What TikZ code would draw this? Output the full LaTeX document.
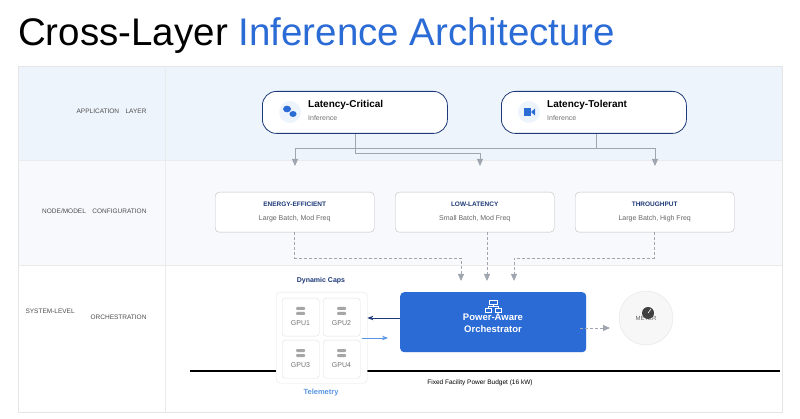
\documentclass[tikz,border=0pt]{standalone}
\usepackage{fontspec}
\setmainfont{Liberation Sans}
\usetikzlibrary{positioning, arrows.meta, shadows}
\definecolor{my_blue}{RGB}{42, 107, 214}
\definecolor{my_navy}{RGB}{30, 58, 120}
\definecolor{my_band1}{RGB}{238, 244, 252}
\definecolor{my_band2}{RGB}{247, 249, 252}
\definecolor{my_gray}{RGB}{160, 166, 176}
\definecolor{my_light}{RGB}{90, 150, 230}
\tikzset {
  layer/.style = {font=\fontsize{6.5}{7}\selectfont, text=black!70, anchor=east},
  app/.style = {draw=my_navy, thick, fill=white, rounded corners=14pt, rectangle, minimum width=185pt, minimum height=42pt},
  config/.style = {draw=black!25, fill=white, rounded corners=4pt, rectangle, minimum width=159pt, minimum height=40pt},
  gpu/.style = {draw=black!12, fill=white, rounded corners=3pt, rectangle, minimum width=37pt, minimum height=38pt, font=\fontsize{7}{8}\selectfont, text=black!60},
  line/.style = {-{Triangle[width=6pt,length=7pt]}, thick, color=my_gray},
  dashline/.style = {-{Triangle[width=6pt,length=7pt]}, thick, color=my_gray, dash pattern=on 3pt off 2pt},
}
\begin{document}
\begin{tikzpicture}[x=1pt, y=-1pt]
    \useasboundingbox (0,0) rectangle (800,419);
    \fill[white] (0,0) rectangle (800,419);

    % title
    \node[anchor=base west, inner sep=0, font=\fontsize{38.5}{40}\selectfont] (title) at (18,46) {Cross-Layer \textcolor{my_blue}{Inference Architecture}};

    % bands
    \fill[my_band1] (18,66) rectangle (782,160);
    \fill[my_band2] (18,160) rectangle (782,265);
    \draw[black!10] (18,66) rectangle (782,412);
    \draw[black!8] (165,66) -- (165,412);
    \draw[black!8] (18,160) -- (782,160);
    \draw[black!8] (18,265) -- (782,265);

    \node[layer] (lapp) at (150,111) {APPLICATION\quad LAYER};
    \node[layer] (lnode) at (150,211) {NODE/MODEL\quad CONFIGURATION};
    \node[layer, anchor=west] (lsys) at (22,311) {SYSTEM-LEVEL};
    \node[layer] (lorch) at (150,317) {ORCHESTRATION};

    % application layer
    \node[app, anchor=north west] (crit) at (262,91) {};
    \fill[my_band1] (290,112) circle (11pt);
    \fill[my_blue] (287,109) ellipse (4pt and 3.3pt) (293,114) ellipse (3.6pt and 3pt);
    \node[anchor=west, inner sep=0, font=\fontsize{10}{12}\selectfont\bfseries] (crittxt) at (308,105) {Latency-Critical};
    \node[anchor=west, inner sep=0, font=\fontsize{7}{8}\selectfont, text=black!55] (critsub) at (308,118) {Inference};

    \node[app, anchor=north west] (tol) at (501,91) {};
    \fill[my_band1] (529,112) circle (11pt);
    \fill[my_blue] (524,108) rectangle (531,116);
    \fill[my_blue] (531,112) -- (535,108.5) -- (535,115.5) -- cycle;
    \node[anchor=west, inner sep=0, font=\fontsize{10}{12}\selectfont\bfseries] (toltxt) at (547,105) {Latency-Tolerant};
    \node[anchor=west, inner sep=0, font=\fontsize{7}{8}\selectfont, text=black!55] (tolsub) at (547,118) {Inference};

    % config layer
    \node[config, anchor=north west] (eff) at (215,192) {};
    \node[config, anchor=north west] (low) at (395,192) {};
    \node[config, anchor=north west] (thr) at (575,192) {};
    \foreach \n/\t/\s in {eff/ENERGY-EFFICIENT/{Large Batch, Mod Freq}, low/LOW-LATENCY/{Small Batch, Mod Freq}, thr/THROUGHPUT/{Large Batch, High Freq}} {
      \node[font=\fontsize{6.5}{7}\selectfont\bfseries, text=my_navy] at ([yshift=-12pt]\n.north) {\t};
      \node[font=\fontsize{7}{8}\selectfont, text=black!60] at ([yshift=-27pt]\n.north) {\s};
    }

    \coordinate (bus1) at (295,148);
    \coordinate (bus2) at (655,148);
    \draw[thick, my_gray] (bus1) -- (bus2);
    \draw[line] (bus1) -- (295,166);
    \draw[line] (bus2) -- (655,166);
    \draw[line] (crit.south -| 355,0) |- (480,153) -- (480,166);
    \draw[thick, my_gray] (tol.south -| 596,0) -- (596,148);

    % system layer
    \node[draw=none, fill=my_blue, rounded corners=4pt, minimum width=186pt, minimum height=60pt, anchor=north west, drop shadow={opacity=0.25, color=my_light, shadow xshift=0pt, shadow yshift=0pt}] (orch) at (400,292) {};
    \node[font=\fontsize{9.5}{12}\selectfont\bfseries, text=white, align=center] (orchtxt) at (493,323) {Power-Aware\\Orchestrator};
    \draw[white, thick] (489,300) rectangle (497,304) (493,304) -- (493,306) (488,306) -- (498,306) (488,306) -- (488,308) (498,306) -- (498,308)
      (485,308) rectangle (491,312) (495,308) rectangle (501,312);

    \draw[dashline] (eff.south) |- (461,258) -- (461,281);
    \draw[dashline] (487,232) -- (487,281);
    \draw[dashline] (thr.south) |- (514,258) -- (514,281);

    % power budget
    \coordinate (budgetL) at (190,371);
    \coordinate (budgetR) at (780,371);
    \draw[line width=2pt] (budgetL) -- (budgetR);
    \node[font=\fontsize{6.5}{7}\selectfont] (budget) at (480,383) {Fixed Facility Power Budget (16 kW)};

    \node[draw=black!10, fill=white, rounded corners=4pt, minimum width=91pt, minimum height=91pt, anchor=north west] (panel) at (276,292) {};
    \node[font=\fontsize{7}{8}\selectfont\bfseries, text=my_navy] (caps) at (321,281) {Dynamic Caps};
    \node[font=\fontsize{7.5}{8}\selectfont\bfseries, text=my_light] (tele) at (321,393) {Telemetry};
    \foreach \n/\x/\y in {1/282/298, 2/323/298, 3/282/340, 4/323/340} {
      \node[gpu, anchor=north west] (gpu\n) at (\x,\y) {};
      \fill[black!35, rounded corners=1pt] (\x+14,\y+9) rectangle (\x+23,\y+12) (\x+14,\y+14) rectangle (\x+23,\y+17);
      \node[font=\fontsize{7}{8}\selectfont, text=black!55] at (\x+18.5,\y+25) {GPU\n};
    }

    \draw[-{Stealth[length=6pt]}, thick, my_navy] (orch.west |- 0,318) -- (panel.east |- 0,318);
    \draw[-{Stealth[length=6pt]}, thick, my_light] (362,338) -- (388,338);

    \node[circle, draw=black!10, fill=black!3, minimum size=54pt] (meter) at (646,318) {};
    \node[font=\fontsize{6}{7}\selectfont, text=black!60] (metertxt) at (meter) {METER};
    \fill[black!75] (648,313) circle (6pt);
    \draw[white, semithick] (648,313) -- (651,309);
    \draw[dashline] (580,328) -- (610,328);
\end{tikzpicture}
\end{document}
